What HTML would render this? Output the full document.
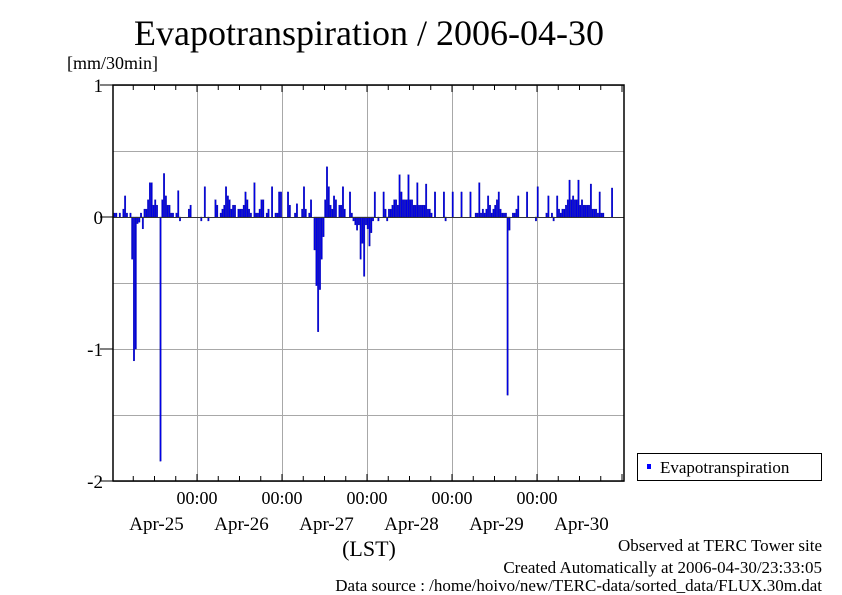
<!DOCTYPE html>
<html><head><meta charset="utf-8"><style>
body{margin:0;background:#fff;}
svg{display:block;font-family:"Liberation Serif",serif;}
</style></head><body>
<svg id="chart" width="842" height="595" xmlns="http://www.w3.org/2000/svg">
<text x="369" y="45" font-size="36" text-anchor="middle">Evapotranspiration / 2006-04-30</text>
<text x="67" y="69" font-size="18">[mm/30min]</text>
<g id="grid"></g>
<g id="bars"></g>
<g id="axes"></g>
<text x="369" y="556" font-size="22" text-anchor="middle">(LST)</text>
<g>
<rect x="637.5" y="453.5" width="184" height="27" fill="#fff" stroke="#000"/>
<rect x="647" y="464" width="4" height="5" fill="#0000ff"/>
<text x="660" y="473" font-size="17">Evapotranspiration</text>
</g>
<text x="822" y="551" font-size="17" text-anchor="end">Observed at TERC Tower site</text>
<text x="822" y="573" font-size="17" text-anchor="end">Created Automatically at 2006-04-30/23:33:05</text>
<text x="822" y="595" font-size="17" text-anchor="end" dy="-4">Data source : /home/hoivo/new/TERC-data/sorted_data/FLUX.30m.dat</text>
</svg>
<script>
const dayLabels = ["Apr-25","Apr-26","Apr-27","Apr-28","Apr-29","Apr-30"];
const yTicks = [1,0,-1,-2];
const yTickLabels = ["1","0","-1","-2"];
const values = [
0,.03,.03,0,.03,0,.06,.16,.03,0,.03,-.32,-1.09,-1.0,-.05,-.04,.03,-.09,.06,.06,.13,.26,.26,.09,.13,.09,0,-1.85,.13,.33,.16,.09,.09,.03,.03,0,.03,.2,-.03,0,0,0,0,.06,.09,0,0,0,
0,0,-.03,0,.23,0,-.03,0,0,0,.13,.09,0,.03,.06,.09,.23,.16,.13,.06,.09,.09,0,.06,.06,.06,.09,.19,.13,.06,.03,0,.26,.03,.03,.06,.13,.13,0,.03,.06,0,.23,0,.03,.03,.19,.19,
0,0,0,.19,.09,0,0,.03,.1,0,0,.06,.23,.06,0,.03,.13,0,-.25,-.52,-.87,-.55,-.32,-.15,.13,.38,.23,.09,.06,.16,.13,0,.09,.09,.23,.06,0,0,.19,.03,-.03,-.06,-.1,-.06,-.32,-.2,-.45,-.06,
-.09,-.22,-.12,-.03,.19,0,-.03,0,0,.19,.06,-.03,.06,.06,.09,.13,.13,.09,.32,.19,.13,.13,.13,.32,.13,.13,.09,.09,.26,.09,.09,.09,.09,.25,.06,.06,.03,0,.19,0,0,0,0,.19,-.03,0,0,0,
.19,0,0,0,0,.19,0,0,0,0,.19,0,0,.03,.03,.26,.03,.06,.03,.06,.16,.09,.03,.06,.09,.13,.19,.06,.03,.03,.03,-1.35,-.1,0,.03,.03,.06,.16,0,0,0,0,.19,0,0,0,0,-.03,
.23,0,0,0,0,.03,.16,0,.03,-.03,0,.16,.06,.03,.06,.06,.09,.13,.28,.13,.16,.13,.13,.28,.09,.13,.09,.09,.09,.09,.25,.06,.06,.06,.03,.19,.03,.03,0,0,0,0,.22,0,0,0,0,0
];
const NS="http://www.w3.org/2000/svg";
const L=113,R=624,T=85,B=481,X0=112,DAY=85;
const xs=i=>X0+i*DAY/48;
const ys=v=>T+(1-v)*(B-T)/3;
function mk(tag,attrs,parent){const e=document.createElementNS(NS,tag);for(const k in attrs)e.setAttribute(k,attrs[k]);parent.appendChild(e);return e;}
const grid=document.getElementById('grid'),bars=document.getElementById('bars'),axes=document.getElementById('axes');
for(let v=1;v>=-2;v-=0.5){const y=Math.round(ys(v))+0.5;
 const g=mk('line',{x1:L,x2:R,y1:y,y2:y,stroke:'#a8a8a8','stroke-width':1},grid);
 
 }
for(let d=1;d<=5;d++){const x=Math.round(xs(d*48))+0.5;
 const g=mk('line',{x1:x,x2:x,y1:T,y2:B,stroke:'#a8a8a8','stroke-width':1},grid);
 
 }
const y0=ys(0);
values.forEach((v,i)=>{if(v===0)return;const x=xs(i);const y=ys(v);
 const r=mk('rect',{x:x.toFixed(2),y:Math.min(y,y0).toFixed(2),width:(DAY/48-0.3).toFixed(2),height:Math.max(Math.abs(y-y0),1).toFixed(2),fill:'#0000e8',stroke:'#000090','stroke-width':0.3},bars);
 
 });
const zl=mk('line',{x1:L,x2:R,y1:Math.round(y0)+0.5,y2:Math.round(y0)+0.5,stroke:'#333','stroke-width':1},axes);


const fr=mk('rect',{x:L,y:T,width:R-L,height:B-T,fill:'none',stroke:'#000','stroke-width':1.5},axes);


yTicks.forEach((v,k)=>{const y=ys(v);
 const t=mk('line',{x1:100,x2:L,y1:y,y2:y,stroke:'#000','stroke-width':1},axes);
 
 
 const tx=mk('text',{x:103,y:y+7,'font-size':19,'text-anchor':'end'},axes);
 tx.textContent=yTickLabels[k];
 
 });
for(let q=1;q<25;q++){const x=xs(q*12);if(x>=R)break;const big=(q%4===0);
 const a=mk('line',{x1:x,x2:x,y1:B,y2:B-(big?7:5),stroke:'#000'},axes);
 
 
 const b=mk('line',{x1:x,x2:x,y1:T,y2:T+(big?7:5),stroke:'#000'},axes);
 
 }
dayLabels.forEach((lab,d)=>{
 if(d<5){const t=mk('text',{x:xs((d+1)*48),y:504,'font-size':18,'text-anchor':'middle'},axes);
  t.textContent='00:00';
  
  }
 const t2=mk('text',{x:xs(d*48+24)+2,y:530,'font-size':19,'text-anchor':'middle'},axes);
 t2.textContent=lab;
 
 });
</script>
</body></html>
